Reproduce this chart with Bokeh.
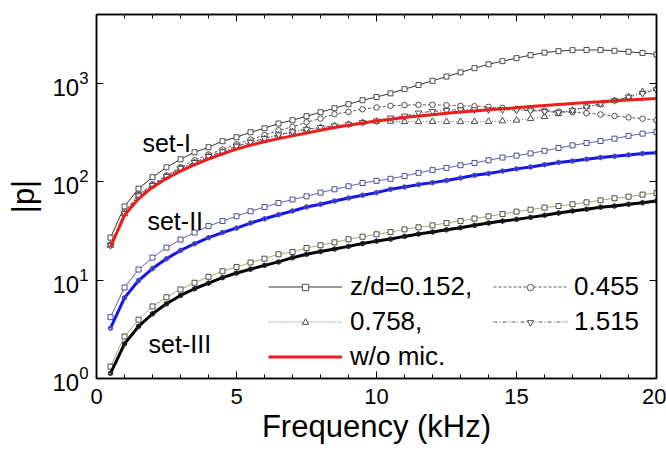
from bokeh.plotting import figure
from bokeh.models import (LinearAxis, LogAxis, FixedTicker, Range1d, Label,
                          Legend, LegendItem)
from bokeh.embed import file_html
from bokeh.resources import INLINE

# ---------------- data ----------------
freq = [0.5, 1.0, 1.5, 2.0, 2.5, 3.0, 3.5, 4.0, 4.5, 5.0,
        5.5, 6.0, 6.5, 7.0, 7.5, 8.0, 8.5, 9.0, 9.5, 10.0,
        10.5, 11.0, 11.5, 12.0, 12.5, 13.0, 13.5, 14.0, 14.5, 15.0,
        15.5, 16.0, 16.5, 17.0, 17.5, 18.0, 18.5, 19.0, 19.5, 20.0]

# set-I
s1_z152 = [27, 56, 85, 111, 140, 169, 199, 224, 258, 283,
           318, 349, 390, 421, 463, 508, 558, 613, 673, 725,
           790, 871, 960, 1060, 1170, 1290, 1425, 1560, 1678, 1800,
           1932, 2050, 2120, 2170, 2180, 2180, 2140, 2090, 2030, 1963]
s1_z455 = [23, 49, 74, 94, 116, 140, 165, 189, 212, 240,
           268, 297, 333, 360, 402, 438, 485, 512, 545, 568,
           590, 600, 603, 605, 598, 590, 585, 575, 562, 550,
           538, 527, 516, 507, 498, 482, 465, 450, 437, 421]
s1_z758 = [22.5, 47, 72, 91, 112, 136, 156, 180, 200, 228,
           250, 272, 298, 320, 340, 355, 368, 382, 398, 410,
           410, 408, 407, 407, 407, 407, 407, 408, 414, 421,
           438, 458, 490, 530, 580, 610, 665, 730, 820, 880]
s1_z1515 = [22.5, 47.5, 72, 92, 113, 137, 157, 181, 202, 230,
            252, 275, 300, 322, 342, 356, 370, 384, 400, 414,
            445, 465, 500, 518, 530, 538, 540, 540, 537, 533,
            526, 518, 505, 530, 575, 620, 670, 725, 790, 860]
s1_mic = [21.7, 45.5, 67, 88, 108, 128, 149, 170, 192, 214,
          235, 255, 274, 292, 312, 333, 355, 375, 395, 414,
          432, 450, 465, 480, 495, 512, 524, 537, 550, 563,
          580, 595, 609, 623, 637, 650, 664, 678, 689, 700]

# set-II
s2_z152 = [4.2, 8.4, 12.8, 16.9, 21.4, 25.8, 30.4, 35.4, 39.8, 44.5,
           50, 55.3, 60.7, 65.8, 71, 77.4, 83.7, 89.8, 97, 102,
           107, 114, 123, 131, 138, 147, 155, 165, 176, 184,
           194, 206, 220, 234, 247, 259, 274, 292, 308, 320]
s2_mic = [3.25, 6.6, 9.9, 13.1, 16.5, 20, 23.4, 27, 30.4, 33.8,
          38, 42, 46.2, 50.4, 55.3, 58.9, 63.6, 68.2, 72.7, 77.4,
          83.7, 88.3, 93.4, 97.8, 103, 109, 116, 121, 128, 135,
          141, 149, 157, 162, 169, 176, 181, 187, 193, 197]

# set-III
s3_z152 = [1.32, 2.67, 3.96, 5.4, 6.7, 8.04, 9.4, 10.8, 12.3, 13.6,
           15.1, 16.5, 18.3, 19.3, 21.2, 22.6, 24.2, 26, 27.6, 29.2,
           30.8, 32.8, 34.4, 36, 38, 39.8, 42.2, 44.5, 46.9, 49.6,
           52, 54.5, 56.6, 58.9, 61.7, 64.7, 67.8, 70.5, 73.9, 76.7]
s3_mic = [1.13, 2.25, 3.38, 4.55, 5.75, 6.98, 8.17, 9.3, 10.6, 11.8,
          12.9, 14.1, 15.3, 16.9, 18.3, 19.5, 20.7, 22, 23.5, 24.9,
          26.1, 27.8, 29.4, 30.8, 32.5, 34.1, 36, 38, 39.8, 41.4,
          43.4, 45.5, 48, 50.4, 52.5, 55, 56.6, 58.9, 61.2, 63.6]

x_ticks = [0, 5, 10, 15, 20]
x_minor = [1, 2, 3, 4, 6, 7, 8, 9, 11, 12, 13, 14, 16, 17, 18, 19]
y_ticks = [1, 10, 100, 1000]
legend_labels = ["z/d=0.152,", "0.455", "0.758,", "1.515", "w/o mic."]
set_names = ["set-I", "set-II", "set-III"]
set_label_x = [1.64, 1.82, 1.86]
set_label_y = [246, 39.5, 2.22]

FONT = "Liberation Sans"

p = figure(width=666, height=450, y_axis_type="log",
           x_range=Range1d(0, 20), y_range=Range1d(1, 5000),
           output_backend="svg", toolbar_location=None,
           min_border_left=96, min_border_right=10,
           min_border_top=14, min_border_bottom=72)
p.grid.visible = False
p.outline_line_color = "black"
p.outline_line_width = 1.5
p.background_fill_color = "white"
p.border_fill_color = "white"

xax = p.xaxis[0]
yax = p.yaxis[0]
xax.ticker = FixedTicker(ticks=x_ticks, minor_ticks=x_minor)
yax.ticker = FixedTicker(ticks=y_ticks)
for ax in (xax, yax):
    ax.axis_line_color = "black"
    ax.axis_line_width = 1.5
    ax.major_tick_in = 7
    ax.major_tick_out = 0
    ax.minor_tick_in = 4
    ax.minor_tick_out = 0
    ax.major_tick_line_color = "black"
    ax.minor_tick_line_color = "black"
    ax.major_label_text_font = FONT
    ax.major_label_text_font_size = "22px"
    ax.major_label_text_color = "black"
    ax.axis_label_text_font = FONT
    ax.axis_label_text_font_size = "31px"
    ax.axis_label_text_font_style = "normal"
    ax.axis_label_text_color = "black"
yax.major_label_text_font_size = "24px"
yax.minor_tick_line_color = None
xax.major_label_standoff = 10
yax.major_label_standoff = 8
xax.axis_label = "Frequency (kHz)"
xax.axis_label_standoff = 2
yax.axis_label = "|p|"
yax.axis_label_standoff = 8

top = LinearAxis(ticker=FixedTicker(ticks=x_ticks, minor_ticks=x_minor))
right = LogAxis(ticker=FixedTicker(ticks=y_ticks))
for ax in (top, right):
    ax.axis_line_color = "black"
    ax.axis_line_width = 1.5
    ax.major_tick_in = 7
    ax.major_tick_out = 0
    ax.minor_tick_in = 4
    ax.minor_tick_out = 0
    ax.major_label_text_font_size = "1px"
    ax.major_label_text_color = None
    ax.major_label_standoff = 0
right.minor_tick_line_color = None
p.add_layout(top, "above")
p.add_layout(right, "right")

# ---------------- set-I ----------------
mk = "#3a3a3a"
r_sq_l = p.line(freq, s1_z152, line_color="black", line_width=0.8)
r_sq_m = p.scatter(freq, s1_z152, marker="square", size=5, line_color=mk,
                   fill_color="white", line_width=0.9)
r_c_l = p.line(freq, s1_z455, line_color="#333333", line_width=0.8, line_dash="3 2")
r_c_m = p.scatter(freq, s1_z455, marker="circle", size=5.5, line_color=mk,
                  fill_color="white", line_width=0.9)
r_t_l = p.line(freq, s1_z758, line_color="#333333", line_width=0.8, line_dash="1 2")
r_t_m = p.scatter(freq, s1_z758, marker="triangle", size=6.5, line_color=mk,
                  fill_color="white", line_width=0.9)
r_v_l = p.line(freq, s1_z1515, line_color="#333333", line_width=0.8, line_dash="4 2 1 2")
r_v_m = p.scatter(freq, s1_z1515, marker="inverted_triangle", size=6.5, line_color=mk,
                  fill_color="white", line_width=0.9)
r_red = p.line(freq, s1_mic, line_color="#ee1c1c", line_width=3)

# ---------------- set-II ----------------
p.line(freq, s2_z152, line_color="#3a3aa0", line_width=0.8)
p.scatter(freq, s2_z152, marker="square", size=5, line_color="#3a3a8a",
          fill_color="white", line_width=0.9)
p.line(freq, s2_mic, line_color="#1414f0", line_width=3)
for m in ("circle", "triangle", "inverted_triangle"):
    p.scatter(freq, s2_mic, marker=m, size=4.5, line_color="#4a4ab0",
              fill_color=None, line_width=0.8)

# ---------------- set-III ----------------
p.line(freq, s3_z152, line_color="#a0a060", line_width=0.9)
p.scatter(freq, s3_z152, marker="square", size=5, line_color="#3a3a3a",
          fill_color="white", line_width=0.9)
p.line(freq, s3_mic, line_color="black", line_width=3)
for m in ("circle", "triangle", "inverted_triangle"):
    p.scatter(freq, s3_mic, marker=m, size=4.5, line_color="#222222",
              fill_color=None, line_width=0.8)

# set labels
for name, lx, ly in zip(set_names, set_label_x, set_label_y):
    p.add_layout(Label(x=lx, y=ly, text=name, text_font=FONT,
                       text_font_size="25px", text_color="black",
                       text_baseline="alphabetic"))

# legends: lines + text (tall rows), markers in a second, text-less legend
def line_legend(items, loc, standoff):
    return Legend(items=items, location=loc, orientation="vertical",
                  glyph_width=74, glyph_height=35, label_height=35,
                  label_standoff=standoff, spacing=0, padding=0, margin=0,
                  border_line_color=None, background_fill_alpha=0,
                  label_text_font=FONT, label_text_font_size="26px",
                  label_text_color="black")

def marker_legend(items, loc):
    return Legend(items=items, location=loc, orientation="vertical",
                  glyph_width=74, glyph_height=16, label_height=16,
                  label_standoff=0, spacing=19, padding=0, margin=0,
                  border_line_color=None, background_fill_alpha=0,
                  label_text_font_size="1px", label_text_color=None)

col1_lines = [LegendItem(label=legend_labels[0], renderers=[r_sq_l]),
              LegendItem(label=legend_labels[2], renderers=[r_t_l]),
              LegendItem(label=legend_labels[4], renderers=[r_red])]
col2_lines = [LegendItem(label=legend_labels[1], renderers=[r_c_l]),
              LegendItem(label=legend_labels[3], renderers=[r_v_l])]
col1_marks = [LegendItem(label=legend_labels[0], renderers=[r_sq_m]),
              LegendItem(label=legend_labels[2], renderers=[r_t_m])]
col2_marks = [LegendItem(label=legend_labels[1], renderers=[r_c_m]),
              LegendItem(label=legend_labels[3], renderers=[r_v_m])]

p.add_layout(line_legend(col1_lines, (172, 4), 8), "center")
p.add_layout(line_legend(col2_lines, (397, 39), 7), "center")
p.add_layout(marker_legend(col1_marks, (172, 48)), "center")
p.add_layout(marker_legend(col2_marks, (397, 48)), "center")

open("out.html", "w").write(file_html(p, INLINE))
